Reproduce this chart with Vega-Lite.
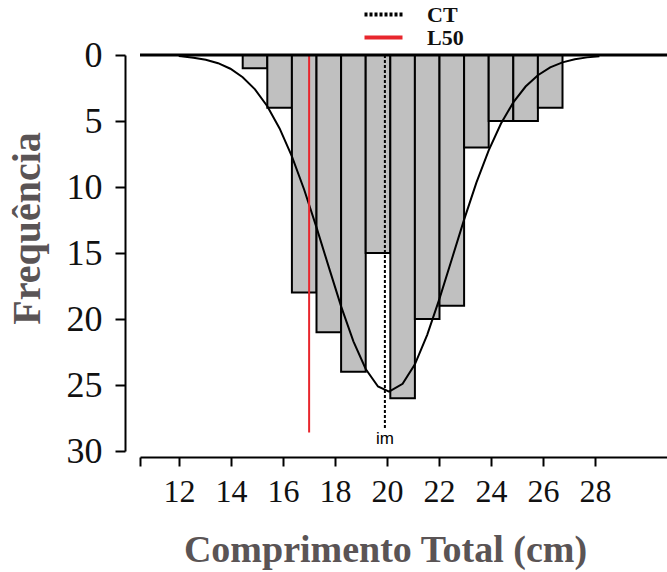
{
  "$schema": "https://vega.github.io/schema/vega-lite/v6.json",
  "autosize": {"type": "none"},
  "width": 527,
  "height": 396,
  "padding": {"left": 140, "top": 55, "right": 0, "bottom": 121},
  "background": "white",
  "config": {
    "view": {"stroke": null},
    "font": "Liberation Serif",
    "axis": {"grid": false, "domainColor": "#000000", "tickColor": "#000000", "labelColor": "#111111", "labelFont": "Liberation Serif", "titleFont": "Liberation Serif", "titleFontWeight": "bold", "titleColor": "#5a5455", "domainWidth": 2, "tickWidth": 2},
    "legend": {"labelFont": "Liberation Serif", "labelFontWeight": "bold", "labelFontSize": 22, "labelColor": "#111111", "padding": 0}
  },
  "datasets": {
    "barras": [
      {"ini": 14.5, "fim": 15.5, "freq": 1},
      {"ini": 15.5, "fim": 16.5, "freq": 4},
      {"ini": 16.5, "fim": 17.5, "freq": 18},
      {"ini": 17.5, "fim": 18.5, "freq": 21},
      {"ini": 18.5, "fim": 19.5, "freq": 24},
      {"ini": 19.5, "fim": 20.5, "freq": 15},
      {"ini": 20.5, "fim": 21.5, "freq": 26},
      {"ini": 21.5, "fim": 22.5, "freq": 20},
      {"ini": 22.5, "fim": 23.5, "freq": 19},
      {"ini": 23.5, "fim": 24.5, "freq": 7},
      {"ini": 24.5, "fim": 25.5, "freq": 5},
      {"ini": 25.5, "fim": 26.5, "freq": 5},
      {"ini": 26.5, "fim": 27.5, "freq": 4}
    ],
    "curva": [
      {"ct": 11.9, "freq": 0.08},
      {"ct": 12.0, "freq": 0.1},
      {"ct": 12.5, "freq": 0.2},
      {"ct": 13.0, "freq": 0.36},
      {"ct": 13.5, "freq": 0.62},
      {"ct": 14.0, "freq": 1.04},
      {"ct": 14.5, "freq": 1.68},
      {"ct": 15.0, "freq": 2.6},
      {"ct": 15.5, "freq": 3.88},
      {"ct": 16.0, "freq": 5.56},
      {"ct": 16.5, "freq": 7.68},
      {"ct": 17.0, "freq": 10.21},
      {"ct": 17.5, "freq": 13.06},
      {"ct": 18.0, "freq": 16.07},
      {"ct": 18.5, "freq": 19.04},
      {"ct": 19.0, "freq": 21.69},
      {"ct": 19.5, "freq": 23.79},
      {"ct": 20.0, "freq": 25.11},
      {"ct": 20.45, "freq": 25.5},
      {"ct": 21.0, "freq": 24.91},
      {"ct": 21.5, "freq": 23.43},
      {"ct": 22.0, "freq": 21.2},
      {"ct": 22.5, "freq": 18.46},
      {"ct": 23.0, "freq": 15.47},
      {"ct": 23.5, "freq": 12.47},
      {"ct": 24.0, "freq": 9.67},
      {"ct": 24.5, "freq": 7.22},
      {"ct": 25.0, "freq": 5.19},
      {"ct": 25.5, "freq": 3.59},
      {"ct": 26.0, "freq": 2.39},
      {"ct": 26.5, "freq": 1.53},
      {"ct": 27.0, "freq": 0.94},
      {"ct": 27.5, "freq": 0.56},
      {"ct": 28.0, "freq": 0.32},
      {"ct": 28.5, "freq": 0.18},
      {"ct": 29.0, "freq": 0.09}
    ],
    "linhas": [
      {"linha": "CT", "valor": 20.28, "de": 0, "ate": 28.4},
      {"linha": "L50", "valor": 17.2, "de": 0, "ate": 28.6}
    ],
    "rotulo": [
      {"texto": "im", "valor": 20.28, "pos": 29.1}
    ]
  },
  "layer": [
    {
      "layer": [
        {
          "data": {"name": "barras"},
          "mark": {"type": "rect", "fill": "#c0c0c0", "stroke": "#000000", "strokeWidth": 2},
          "encoding": {
            "x": {"field": "ini", "type": "quantitative", "scale": {"domain": [10.325, 31.748], "nice": false, "zero": false}, "axis": null},
            "x2": {"field": "fim"},
            "y": {"field": "freq", "type": "quantitative", "stack": null,
              "scale": {"domain": [0, 30], "reverse": true, "nice": false},
              "axis": {"values": [0, 5, 10, 15, 20, 25, 30], "offset": 15, "tickSize": 10, "labelPadding": 13, "labelFontSize": 36, "title": "Frequência", "titleFontSize": 40, "titleY": 173, "titleX": -78}},
            "y2": {"datum": 0}
          }
        },
        {
          "data": {"name": "curva"},
          "mark": {"type": "line", "stroke": "#000000", "strokeWidth": 2},
          "encoding": {
            "x": {"field": "ct", "type": "quantitative"},
            "y": {"field": "freq", "type": "quantitative"}
          }
        },
        {
          "data": {"name": "linhas"},
          "mark": {"type": "rule", "strokeWidth": 2},
          "encoding": {
            "x": {"field": "valor", "type": "quantitative"},
            "y": {"field": "de", "type": "quantitative"},
            "y2": {"field": "ate"},
            "color": {"field": "linha", "type": "nominal", "scale": {"domain": ["CT", "L50"], "range": ["#000000", "#e8262d"]},
              "legend": {"title": null, "orient": "none", "legendX": 232, "legendY": -52, "symbolType": "M-2,0H2", "symbolSize": 361, "symbolStrokeWidth": 4, "labelOffset": 32, "rowPadding": 0,
                "encode": {"symbols": {"update": {"strokeWidth": {"value": 4}, "strokeDash": {"signal": "datum.value == 'CT' ? [6, 3] : [1, 0]"}}}}}},
            "strokeDash": {"field": "linha", "type": "nominal", "scale": {"domain": ["CT", "L50"], "range": [[3, 2], [1, 0]]}}
          }
        },
        {
          "data": {"name": "rotulo"},
          "mark": {"type": "text", "font": "Liberation Sans", "fontSize": 17, "color": "#000000", "baseline": "middle"},
          "encoding": {
            "x": {"field": "valor", "type": "quantitative"},
            "y": {"field": "pos", "type": "quantitative"},
            "text": {"field": "texto"}
          }
        },
        {
          "data": {"values": [{"freq": 0}]},
          "mark": {"type": "rule", "stroke": "#000000", "strokeWidth": 3},
          "encoding": {
            "y": {"field": "freq", "type": "quantitative"}
          }
        }
      ]
    },
    {
      "data": {"values": [{"ct": 20}]},
      "mark": {"type": "point", "opacity": 0},
      "encoding": {
        "x": {"field": "ct", "type": "quantitative", "scale": {"domain": [10.5, 30.77], "nice": false, "zero": false},
          "axis": {"orient": "bottom", "offset": 6, "values": [10.5, 12, 14, 16, 18, 20, 22, 24, 26, 28], "labelExpr": "datum.value < 11 ? '' : datum.label", "tickSize": 9, "labelPadding": 10, "labelFontSize": 32, "labelFlush": false, "title": "Comprimento Total (cm)", "titleFontSize": 38, "titleX": 245, "titleY": 74}}
      }
    }
  ],
  "resolve": {"scale": {"x": "independent"}, "axis": {"x": "independent"}}
}
